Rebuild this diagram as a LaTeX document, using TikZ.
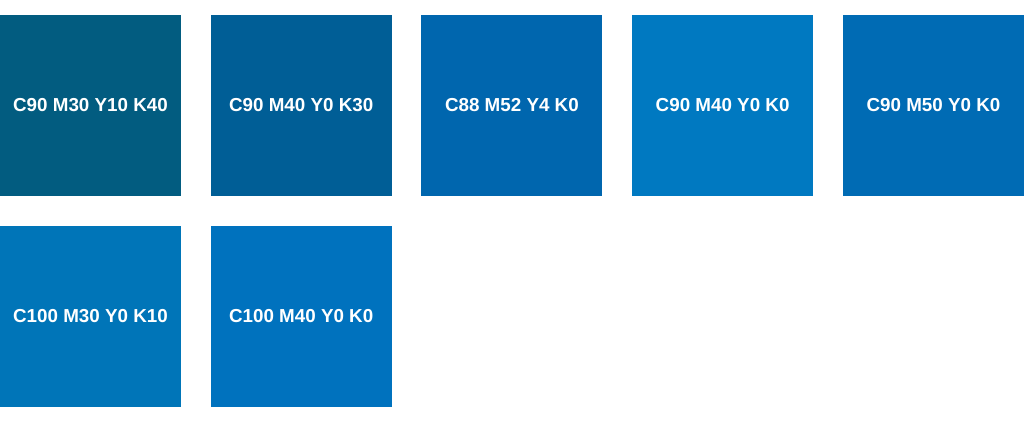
\documentclass[tikz,border=0pt]{standalone}
\usepackage{fontspec}
\setmainfont{Liberation Sans}
\definecolor{swatchA}{RGB}{2,92,128}
\definecolor{swatchB}{RGB}{0,94,150}
\definecolor{swatchC}{RGB}{0,102,174}
\definecolor{swatchD}{RGB}{0,121,193}
\definecolor{swatchE}{RGB}{0,107,180}
\definecolor{swatchF}{RGB}{0,117,184}
\definecolor{swatchG}{RGB}{0,114,190}
\begin{document}
\begin{tikzpicture}[x=1pt,y=-1pt,
	swatch/.style={minimum size=181pt,inner sep=0pt,text=white,font=\bfseries\fontsize{18.8}{20}\selectfont}]
	\useasboundingbox (0,0) rectangle (1024,422);
	% first row
	\node[swatch,fill=swatchA] (c90m30) at (90.5,105.2) {C90 M30 Y10 K40};
	\node[swatch,fill=swatchB] (c90m40k30) at (301.2,105.2) {C90 M40 Y0 K30};
	\node[swatch,fill=swatchC] (c88m52) at (511.9,105.2) {C88 M52 Y4 K0};
	\node[swatch,fill=swatchD] (c90m40) at (722.6,105.2) {C90 M40 Y0 K0};
	\node[swatch,fill=swatchE] (c90m50) at (933.5,105.2) {C90 M50 Y0 K0};
	% second row
	\node[swatch,fill=swatchF] (c100m30) at (90.5,316.3) {C100 M30 Y0 K10};
	\node[swatch,fill=swatchG] (c100m40) at (301.2,316.3) {C100 M40 Y0 K0};
\end{tikzpicture}
\end{document}
